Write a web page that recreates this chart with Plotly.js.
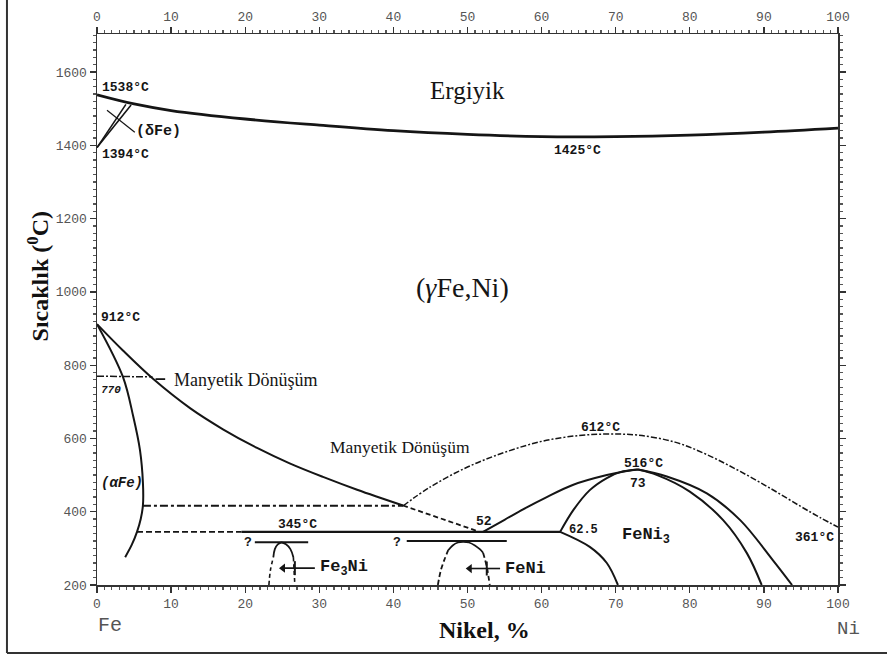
<!DOCTYPE html>
<html>
<head>
<meta charset="utf-8">
<script src="https://cdn.plot.ly/plotly-3.0.1.min.js"></script>
<style>html,body{margin:0;padding:0;background:#fff;}#chart{width:887px;height:656px;}</style>
</head>
<body>
<div id="chart"></div>
<script>
// ---- data (x = Ni wt%, T = °C) ----
const xTicks = [0,10,20,30,40,50,60,70,80,90,100];
const yTicks = [200,400,600,800,1000,1200,1400,1600];

const meltX = [0,5,10,20,30,40,50,60,70,80,90,100];
const meltT = [1538,1513,1495,1472,1455,1440,1430,1424,1424,1428,1436,1447];

const deltaAX = [0,3.9], deltaAT = [1394,1512];
const deltaBX = [0,4.6], deltaBT = [1394,1510];
const deltaPtrX = [1.35,5.1], deltaPtrT = [1496,1436];

const gammaX = [0,3.5,7.6,12.6,17.0,21.6,26.0,30.5,35.1,41.3];
const gammaT = [912,840,762,682,625,574,532,495,460,417];
const gammaDashX = [41.3,51.5];
const gammaDashT = [417,346];

const alphaX = [0,3.5,4.9,5.8,6.2,6.2,5.9,5.4,4.7,3.8];
const alphaT = [912,768,659,568,478,418,380,345,310,276];

const mag770X = [0,7.5], mag770T = [770,768];
const magPtrX = [7.9,9.2], magPtrT = [762,762];

const mag415X = [6.2,41.3], mag415T = [416,416];

const curieX = [41.3,45,50,55,60,65,69,73,78,82.3,86.8,91.2,95,97.5,100];
const curieT = [416,468,522,562,592,608,612,609,590,556,510,460,414,385,358];

const eut345DashX = [5.4,19.5], eut345DashT = [345,345];
const eut345X = [19.5,62.5], eut345T = [345,345];

const fe3niBarX = [21.3,28.5], fe3niBarT = [317,317];
const fe3niDomeLX = [23.2,23.4,23.8], fe3niDomeLT = [200,240,276];
const fe3niDomeX = [23.8,24.0,24.4,24.9,25.5,26.1,26.5];
const fe3niDomeT = [276,298,311,316,311,298,276];
const fe3niDomeRX = [26.5,26.6,26.7], fe3niDomeRT = [276,240,200];
const fe3niArrowX = [25.1,29.4], fe3niArrowT = [246,246];

const feniBarX = [41.8,55.3], feniBarT = [320,320];
const feniDomeLX = [46.0,46.4,46.9,47.4], feniDomeLT = [200,240,270,295];
const feniDomeX = [47.4,48.0,48.7,49.4,50.2,51.0,51.7,52.1];
const feniDomeT = [295,308,316,318,316,308,297,288];
const feniDomeRX = [52.1,52.6,53.0], feniDomeRT = [288,250,200];
const feniArrowX = [50.3,54.4], feniArrowT = [245,245];

const outerLX = [52.1,55,58,60.5,64.2,68.8,71.5,73.0];
const outerLT = [345,378,412,438,473,500,511,515];
const innerLX = [62.5,64.3,66.5,68.8,70.6,73.0];
const innerLT = [345,405,459,492,508,515];
const innerRX = [73.0,75.6,80.0,84.5,87.7,89.7];
const innerRT = [515,500,455,377,287,200];
const outerRX = [73.0,76.9,82.3,86.8,91.2,93.8];
const outerRT = [515,496,450,377,268,200];
const lowerX = [62.5,66.5,68.8,70.3];
const lowerT = [345,304,260,200];

const crossX = [26.7,52.6], crossT = [246,245];
const arrowHeadX = [25.1,50.3], arrowHeadT = [246,245];

// ---- drawing ----
const INK = '#151515';
function ln(x, y, w, dash){
  return {x:x, y:y, type:'scatter', mode:'lines', hoverinfo:'skip',
          line:{color:INK, width:w, dash:dash||'solid', shape:'spline', smoothing:1}};
}
const traces = [
  ln(meltX, meltT, 2.8),
  ln(deltaAX, deltaAT, 1.6), ln(deltaBX, deltaBT, 1.6),
  ln(deltaPtrX, deltaPtrT, 1.2),
  ln(gammaX, gammaT, 2),
  ln(gammaDashX, gammaDashT, 1.8, '5px,3px'),
  ln(alphaX, alphaT, 2),
  ln(mag770X, mag770T, 1.5, '7px,2px,2px,2px'),
  ln(magPtrX, magPtrT, 1.8),
  ln(mag415X, mag415T, 2, '8px,3px,3px,3px'),
  ln(curieX, curieT, 1.5, '6px,2px,2px,2px'),
  ln(eut345DashX, eut345DashT, 1.8, '6px,3px'),
  ln(eut345X, eut345T, 2.2),
  ln(fe3niBarX, fe3niBarT, 2),
  ln(fe3niDomeLX, fe3niDomeLT, 1.6, '4px,3px'),
  ln(fe3niDomeX, fe3niDomeT, 1.8),
  ln(fe3niDomeRX, fe3niDomeRT, 1.6, '4px,3px'),
  ln(fe3niArrowX, fe3niArrowT, 1.6),
  ln(feniBarX, feniBarT, 2),
  ln(feniDomeLX, feniDomeLT, 1.8, '5px,3px'),
  ln(feniDomeX, feniDomeT, 1.8),
  ln(feniDomeRX, feniDomeRT, 1.8, '5px,3px'),
  ln(feniArrowX, feniArrowT, 1.6),
  ln(outerLX, outerLT, 2),
  ln(innerLX, innerLT, 2),
  ln(innerRX, innerRT, 2),
  ln(outerRX, outerRT, 2),
  ln(lowerX, lowerT, 2),
  {x:crossX, y:crossT, type:'scatter', mode:'markers', hoverinfo:'skip',
   marker:{symbol:'line-ns', size:10, line:{color:INK, width:2}}},
  {x:arrowHeadX, y:arrowHeadT, type:'scatter', mode:'markers', hoverinfo:'skip',
   marker:{symbol:'triangle-left', size:8, color:INK, line:{width:0}}},
  {x:[null], y:[null], xaxis:'x2', yaxis:'y2', type:'scatter', mode:'lines', hoverinfo:'skip'}
];

const MONO = 'Liberation Mono, Courier New, monospace';
const SERIF = 'Liberation Serif, Times New Roman, serif';
function lab(text, x, y, size, anchor, fam, extra){
  const f = Object.assign({family:fam||MONO, size:size||13, color:INK}, (extra||{}));
  return {text:text, x:x, y:y, xref:'x', yref:'y', showarrow:false,
          xanchor:anchor||'center', yanchor:'middle', font:f};
}
const B = {weight:'bold'};
const annotations = [
  lab('Ergiyik', 50, 1551, 25, 'center', SERIF),
  lab('(<i>γ</i>Fe,Ni)', 49.3, 1013, 28, 'center', SERIF),
  lab('1538°C', 0.4, 1559, 13, 'left', MONO, B),
  lab('1394°C', 0.4, 1374, 13, 'left', MONO, B),
  lab('1455°C', 100.2, 1464, 13, 'right', MONO, B),
  lab('1425°C', 64.9, 1387, 13, 'center', MONO, B),
  lab('(δFe)', 8.3, 1439, 15, 'center', MONO, B),
  lab('912°C', 0.3, 931, 13, 'left', MONO, B),
  lab('770', 0.3, 732, 11, 'left', MONO, {weight:'bold', style:'italic'}),
  lab('Manyetik Dönüşüm', 10.1, 759, 18, 'left', SERIF),
  lab('Manyetik Dönüşüm', 31.2, 577, 17.5, 'left', SERIF),
  lab('(αFe)', 0.3, 478, 14, 'left', MONO, {weight:'bold', style:'italic'}),
  lab('345°C', 27.1, 366, 13, 'center', MONO, B),
  lab('?', 20.4, 317, 13, 'center', MONO, B),
  lab('?', 40.5, 317, 13, 'center', MONO, B),
  lab('Fe<sub>3</sub>Ni', 29.8, 246, 17, 'left', MONO, B),
  lab('FeNi', 54.8, 244, 17, 'left', MONO, B),
  lab('52', 52.2, 372, 13, 'center', MONO, B),
  lab('62.5', 65.7, 349, 12, 'center', MONO, B),
  lab('FeNi<sub>3</sub>', 74.1, 333, 17, 'center', MONO, B),
  lab('516°C', 73.8, 532, 13, 'center', MONO, B),
  lab('73', 73.0, 478, 13, 'center', MONO, B),
  lab('612°C', 68.0, 629, 13, 'center', MONO, B),
  lab('361°C', 99.7, 331, 13, 'right', MONO, B),
  {text:'Sıcaklık (<sup>0</sup>C)', xref:'paper', yref:'paper', x:-0.0796, y:0.56,
   textangle:-90, showarrow:false, xanchor:'center', yanchor:'middle',
   font:{family:SERIF, size:24, color:'#111', weight:'bold'}},
  {text:'Nikel, %', xref:'paper', yref:'paper', x:0.5236, y:-0.0817, showarrow:false,
   xanchor:'center', yanchor:'middle', font:{family:SERIF, size:24, color:'#111', weight:'bold'}},
  {text:'Fe', xref:'paper', yref:'paper', x:0.0175, y:-0.0744, showarrow:false,
   xanchor:'center', yanchor:'middle', font:{family:MONO, size:20, color:'#555'}},
  {text:'Ni', xref:'paper', yref:'paper', x:1.0148, y:-0.0799, showarrow:false,
   xanchor:'center', yanchor:'middle', font:{family:MONO, size:19, color:'#555'}}
];

const tickFont = {family:MONO, size:13, color:'#555'};
const axBase = {
  showgrid:false, zeroline:false, showline:true, linecolor:'#333', linewidth:1.5,
  ticks:'outside', ticklen:6, tickwidth:1.3, tickcolor:'#333', tickfont:tickFont,
};
const layout = {
  width:887, height:656,
  margin:{l:97, r:49, t:34, b:71},
  paper_bgcolor:'#fff', plot_bgcolor:'#fff',
  showlegend:false, hovermode:false,
  xaxis: Object.assign({}, axBase, {range:[0,100], tickvals:xTicks, ticktext:xTicks.map(String),
          minor:{dtick:1, ticks:'outside', ticklen:3, tickcolor:'#555'}}),
  yaxis: Object.assign({}, axBase, {range:[200,1704], tickvals:yTicks, ticktext:yTicks.map(String),
          minor:{dtick:20, ticks:'outside', ticklen:3, tickcolor:'#555'}}),
  xaxis2: Object.assign({}, axBase, {range:[0,100], overlaying:'x', side:'top', tickvals:xTicks,
          ticktext:xTicks.map(String),
          minor:{dtick:1, ticks:'outside', ticklen:3, tickcolor:'#555'}}),
  yaxis2: Object.assign({}, axBase, {range:[200,1704], overlaying:'y', side:'right', tickvals:yTicks,
          showticklabels:false, minor:{dtick:20, ticks:'outside', ticklen:3, tickcolor:'#555'}}),
  annotations: annotations,
  shapes: [
    {type:'line', xref:'paper', yref:'paper', x0:-0.1215, x1:-0.1215, y0:-0.1234, y1:1.07, line:{color:'#333', width:2}},
    {type:'line', xref:'paper', yref:'paper', x0:-0.1215, x1:1.07, y0:-0.1234, y1:-0.1234, line:{color:'#333', width:2}}
  ]
};
Plotly.newPlot('chart', traces, layout, {displayModeBar:false, staticPlot:true});
</script>
</body>
</html>
